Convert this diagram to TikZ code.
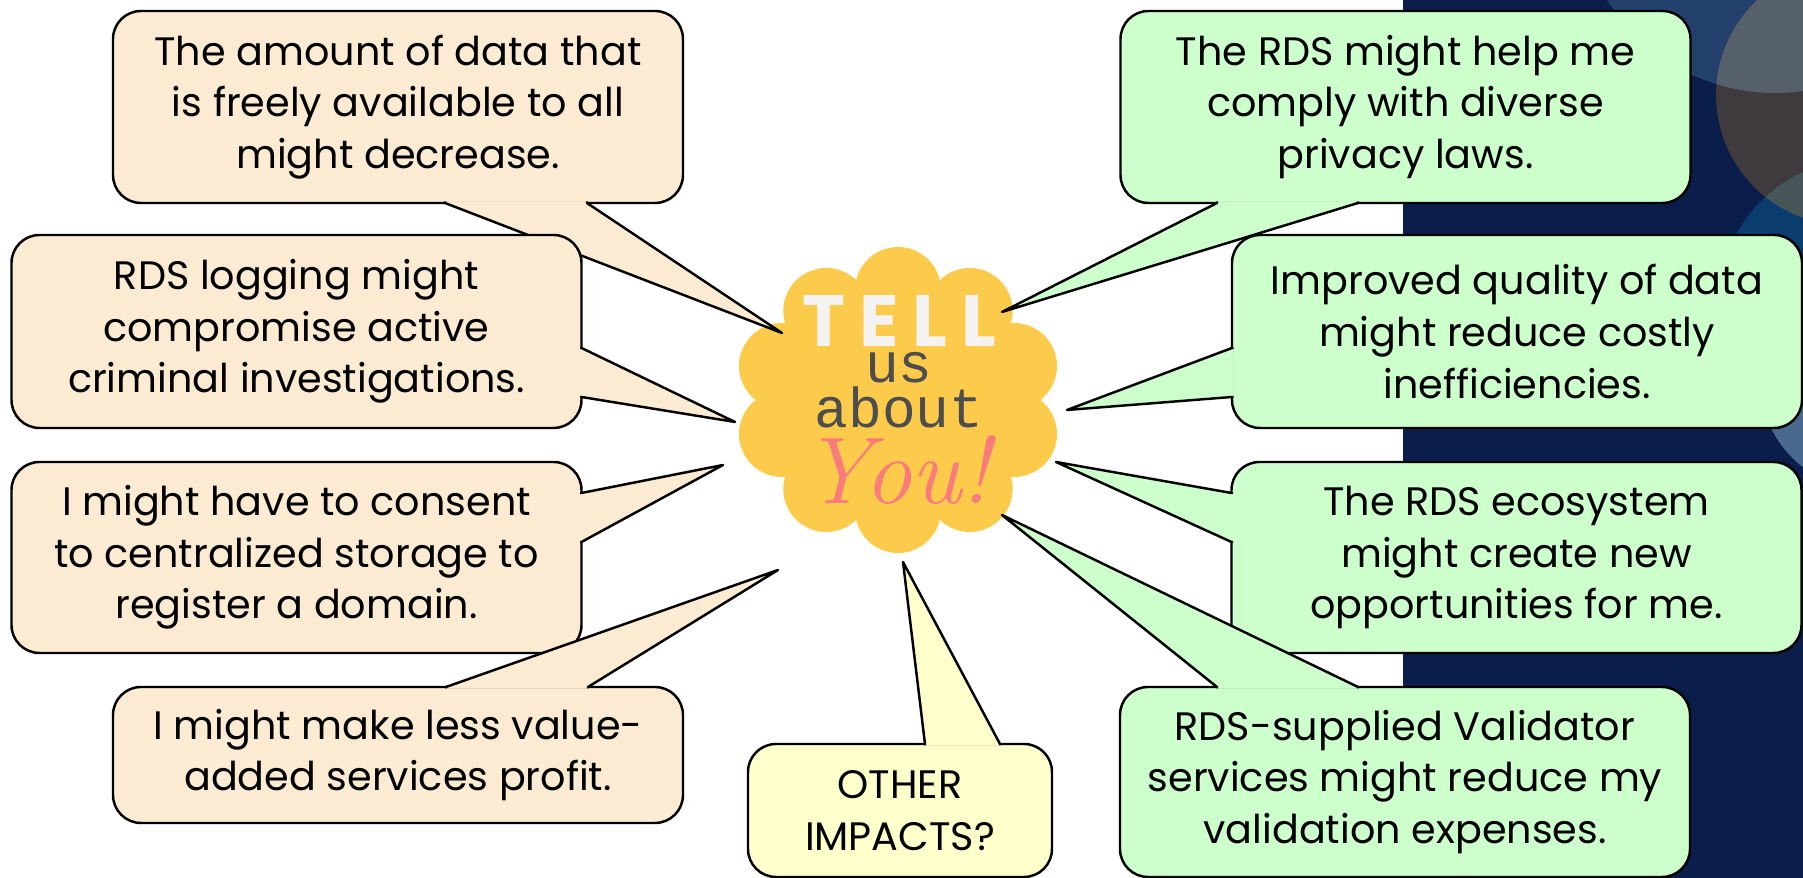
\documentclass[tikz,border=0pt]{standalone}
\usepackage{fontspec}
\setsansfont{Poppins}
\newfontfamily\typefont{Liberation Mono}
\usepackage{tikz}
\usetikzlibrary{calc}

\definecolor{tanfill}{HTML}{FCEBD3}
\definecolor{greenfill}{HTML}{CCFFCC}
\definecolor{yellowfill}{HTML}{FFFFCC}
\definecolor{cloudfill}{HTML}{FDCB4C}
\definecolor{navy}{HTML}{0B1D4A}
\definecolor{bluedisc}{HTML}{23406C}
\definecolor{browndisc}{HTML}{3F3A3D}
\definecolor{greydisc}{HTML}{56606A}
\definecolor{deepdisc}{HTML}{0B3C6E}
\definecolor{tealdisc}{HTML}{465558}
\definecolor{lightdisc}{HTML}{4A688E}
\definecolor{tellwhite}{HTML}{F5F3F2}
\definecolor{aboutgrey}{HTML}{4D4D4D}
\definecolor{youpink}{HTML}{F97B7B}

\begin{document}
\begin{tikzpicture}[
box_style/.style={rectangle, rounded corners=0.28cm, draw=black, line width=0.7pt, align=center, inner sep=0pt, outer sep=0pt, minimum width=5.70cm, font=\sffamily\fontsize{11.3}{14.7}\selectfont},
tan_box/.style={box_style, fill=tanfill},
green_box/.style={box_style, fill=greenfill},
cloud_text/.style={anchor=base, inner sep=0pt},
tail_style/.style={draw=black, line width=0.7pt, line join=round}]
\useasboundingbox (0,0) rectangle (18.03,8.78);

% dark panel on the right
\fill[navy] (14.03,0) rectangle (18.03,8.78);
\begin{scope}
\clip (14.03,0) rectangle (18.03,8.78);
\fill[bluedisc] (17.75,9.83) circle (1.98);
\fill[browndisc] (18.46,7.83) circle (1.30);
\fill[deepdisc] (18.60,5.78) circle (1.40);
\fill[lightdisc] (18.70,4.98) circle (1.10);
\begin{scope}
\clip (17.75,9.83) circle (1.98);
\fill[greydisc] (18.46,7.83) circle (1.30);
\end{scope}
\begin{scope}
\clip (18.60,5.78) circle (1.40);
\fill[tealdisc] (18.46,7.83) circle (1.30);
\end{scope}
\end{scope}

% the cloud
\node[inner sep=0pt] (cloud) at (8.98,4.78) {};
\fill[cloudfill] (cloud) ellipse (1.25 and 1.15);
\foreach \a in {90,126,...,414}
  \fill[cloudfill] ($(cloud)+(\a:1.22 and 1.10)$) circle (0.43);
\node[cloud_text, text=tellwhite, font=\sffamily\bfseries\fontsize{20.7}{22}\selectfont] (tell) at (8.99,5.31) {T\kern4pt E\kern4pt L\kern4pt L};
\node[cloud_text, text=aboutgrey, font=\typefont\fontsize{16}{18}\selectfont] (us) at (8.99,4.95) {us};
\node[cloud_text, text=aboutgrey, font=\typefont\fontsize{16}{18}\selectfont] (about) at (8.99,4.50) {about};
\node[cloud_text, text=youpink, font=\rmfamily\itshape\fontsize{27}{30}\selectfont] (you) at (8.96,3.74) {You!};

% where the tails point
\coordinate (tip_amount) at (7.82,5.45);
\coordinate (tip_logging) at (7.35,4.56);
\coordinate (tip_consent) at (7.23,4.13);
\coordinate (tip_value) at (7.78,3.08);
\coordinate (tip_other) at (9.03,3.16);
\coordinate (tip_privacy) at (10.02,5.66);
\coordinate (tip_quality) at (10.67,4.68);
\coordinate (tip_ecosystem) at (10.56,4.16);
\coordinate (tip_validator) at (10.02,3.63);

% left column
\node[tan_box, minimum height=1.92cm] (amount) at (3.98,7.71) {The amount of data that\\is freely available to all\\might decrease.};
\filldraw[tail_style, fill=tanfill] ($(amount.south)+(0.47,0.015)$) -- ($(amount.south)+(0.47,0)$) -- (tip_amount) -- ($(amount.south)+(1.89,0)$) -- ($(amount.south)+(1.89,0.015)$);

\node[tan_box, minimum height=1.93cm] (logging) at (2.965,5.465) {RDS logging might\\compromise active\\criminal investigations.};
\filldraw[tail_style, fill=tanfill] ($(logging.east)+(-0.015,-0.165)$) -- ($(logging.east)+(0,-0.165)$) -- (tip_logging) -- ($(logging.east)+(0,-0.655)$) -- ($(logging.east)+(-0.015,-0.655)$);

\node[tan_box, minimum height=1.91cm] (consent) at (2.965,3.205) {I might have to consent\\to centralized storage to\\register a domain.};
\filldraw[tail_style, fill=tanfill] ($(consent.east)+(-0.015,0.645)$) -- ($(consent.east)+(0,0.645)$) -- (tip_consent) -- ($(consent.east)+(0,0.155)$) -- ($(consent.east)+(-0.015,0.155)$);

\node[tan_box, minimum height=1.36cm] (value) at (3.98,1.23) {I might make less value-\\added services profit.};
\filldraw[tail_style, fill=tanfill] ($(value.north)+(0.48,-0.015)$) -- ($(value.north)+(0.48,0)$) -- (tip_value) -- ($(value.north)+(1.90,0)$) -- ($(value.north)+(1.90,-0.015)$);

% bottom middle
\node[box_style, fill=yellowfill, minimum width=3.04cm, minimum height=1.33cm] (other) at (9.00,0.675) {OTHER\\IMPACTS?};
\filldraw[tail_style, fill=yellowfill] ($(other.north)+(0.25,-0.015)$) -- ($(other.north)+(0.25,0)$) -- (tip_other) -- ($(other.north)+(1.00,0)$) -- ($(other.north)+(1.00,-0.015)$);

% right column
\node[green_box, minimum height=1.92cm] (privacy) at (14.055,7.71) {The RDS might help me\\comply with diverse\\privacy laws.};
\filldraw[tail_style, fill=greenfill] ($(privacy.south)+(-1.885,0.015)$) -- ($(privacy.south)+(-1.885,0)$) -- (tip_privacy) -- ($(privacy.south)+(-0.475,0)$) -- ($(privacy.south)+(-0.475,0.015)$);

\node[green_box, minimum height=1.93cm] (quality) at (15.17,5.465) {Improved quality of data\\might reduce costly\\inefficiencies.};
\filldraw[tail_style, fill=greenfill] ($(quality.west)+(0.015,-0.165)$) -- ($(quality.west)+(0,-0.165)$) -- (tip_quality) -- ($(quality.west)+(0,-0.655)$) -- ($(quality.west)+(0.015,-0.655)$);

\node[green_box, minimum height=1.91cm] (ecosystem) at (15.165,3.205) {The RDS ecosystem\\might create new\\opportunities for me.};
\filldraw[tail_style, fill=greenfill] ($(ecosystem.west)+(0.015,0.645)$) -- ($(ecosystem.west)+(0,0.645)$) -- (tip_ecosystem) -- ($(ecosystem.west)+(0,0.155)$) -- ($(ecosystem.west)+(0.015,0.155)$);

\node[green_box, minimum height=1.90cm] (validator) at (14.05,0.96) {RDS-supplied Validator\\services might reduce my\\validation expenses.};
\filldraw[tail_style, fill=greenfill] ($(validator.north)+(-1.88,-0.015)$) -- ($(validator.north)+(-1.88,0)$) -- (tip_validator) -- ($(validator.north)+(-0.47,0)$) -- ($(validator.north)+(-0.47,-0.015)$);

\end{tikzpicture}
\end{document}
